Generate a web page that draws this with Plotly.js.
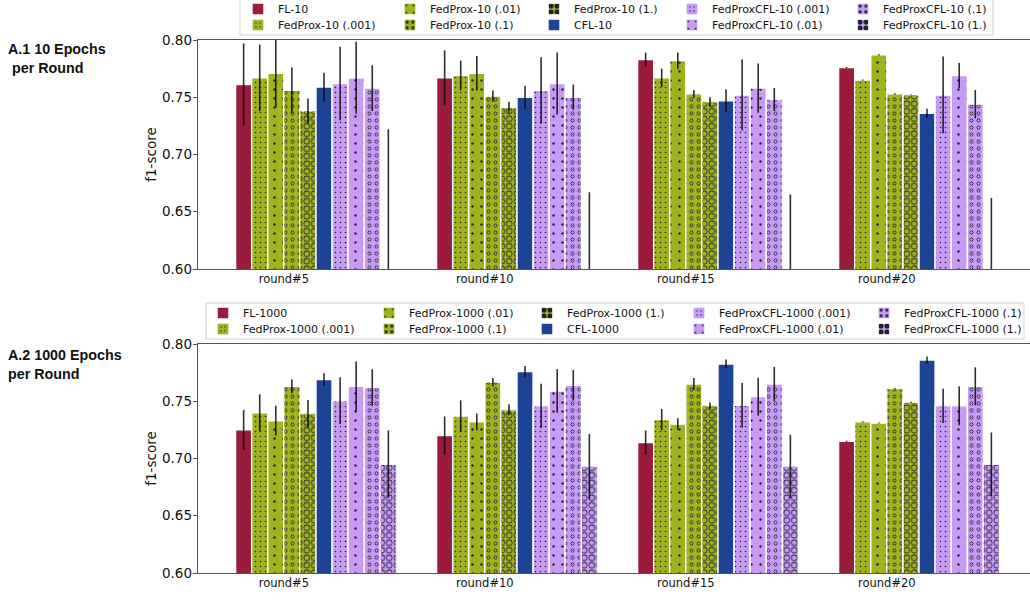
<!DOCTYPE html>
<html>
<head>
<meta charset="utf-8">
<script src="https://cdn.plot.ly/plotly-3.0.1.min.js"></script>
<style>
html,body{margin:0;padding:0;overflow:hidden;background:#fff;}
#chart{width:1045px;height:601px;}
</style>
</head>
<body>
<div id="chart"></div>
<script>
// ---------------- DATA ----------------
const categories = ['round#5', 'round#10', 'round#15', 'round#20'];

// A.1 : 10 epochs per round
const fl10          = [0.761, 0.767, 0.783, 0.776];
const fl10Err       = [0.036, 0.024, 0.006, 0.0005];
const fedprox10_001 = [0.767, 0.769, 0.767, 0.765];
const fedprox10_001Err = [0.029, 0.013, 0.008, 0.0005];
const fedprox10_01  = [0.771, 0.771, 0.782, 0.787];
const fedprox10_01Err  = [0.030, 0.015, 0.007, 0.0005];
const fedprox10_1   = [0.756, 0.751, 0.753, 0.753];
const fedprox10_1Err   = [0.020, 0.005, 0.0034, 0.0005];
const fedprox10_1p  = [0.738, 0.741, 0.746, 0.752];
const fedprox10_1pErr  = [0.011, 0.005, 0.004, 0.0005];
const cfl10         = [0.759, 0.750, 0.747, 0.736];
const cfl10Err      = [0.0125, 0.010, 0.010, 0.004];
const fpcfl10_001   = [0.762, 0.756, 0.752, 0.752];
const fpcfl10_001Err   = [0.032, 0.029, 0.031, 0.0335];
const fpcfl10_01    = [0.767, 0.762, 0.758, 0.769];
const fpcfl10_01Err    = [0.0315, 0.027, 0.0215, 0.011];
const fpcfl10_1     = [0.758, 0.750, 0.748, 0.744];
const fpcfl10_1Err     = [0.020, 0.011, 0.010, 0.0124];
const fpcfl10_1p    = [0.550, 0.520, 0.520, 0.510];
const fpcfl10_1pErr    = [0.172, 0.147, 0.145, 0.152];

// A.2 : 1000 epochs per round
const fl1000          = [0.725, 0.720, 0.714, 0.715];
const fl1000Err       = [0.0175, 0.0167, 0.0105, 0.0005];
const fedprox1000_001 = [0.740, 0.737, 0.734, 0.732];
const fedprox1000_001Err = [0.016, 0.0138, 0.0092, 0.0005];
const fedprox1000_01  = [0.733, 0.732, 0.730, 0.731];
const fedprox1000_01Err  = [0.013, 0.0073, 0.0052, 0.0005];
const fedprox1000_1   = [0.763, 0.7665, 0.765, 0.761];
const fedprox1000_1Err   = [0.006, 0.0037, 0.0052, 0.0005];
const fedprox1000_1p  = [0.739, 0.7425, 0.746, 0.749];
const fedprox1000_1pErr  = [0.012, 0.0048, 0.003, 0.0005];
const cfl1000         = [0.769, 0.776, 0.7825, 0.786];
const cfl1000Err      = [0.0054, 0.0048, 0.004, 0.003];
const fpcfl1000_001   = [0.7505, 0.746, 0.7465, 0.746];
const fpcfl1000_001Err   = [0.0204, 0.0193, 0.0195, 0.015];
const fpcfl1000_01    = [0.763, 0.759, 0.754, 0.746];
const fpcfl1000_01Err    = [0.0218, 0.019, 0.0165, 0.017];
const fpcfl1000_1     = [0.762, 0.764, 0.765, 0.763];
const fpcfl1000_1Err     = [0.016, 0.0134, 0.015, 0.0166];
const fpcfl1000_1p    = [0.695, 0.693, 0.693, 0.695];
const fpcfl1000_1pErr    = [0.0295, 0.0285, 0.0277, 0.0277];

const names10 = ['FL-10', 'FedProx-10 (.001)', 'FedProx-10 (.01)', 'FedProx-10 (.1)', 'FedProx-10 (1.)',
  'CFL-10', 'FedProxCFL-10 (.001)', 'FedProxCFL-10 (.01)', 'FedProxCFL-10 (.1)', 'FedProxCFL-10 (1.)'];
const names1000 = ['FL-1000', 'FedProx-1000 (.001)', 'FedProx-1000 (.01)', 'FedProx-1000 (.1)', 'FedProx-1000 (1.)',
  'CFL-1000', 'FedProxCFL-1000 (.001)', 'FedProxCFL-1000 (.01)', 'FedProxCFL-1000 (.1)', 'FedProxCFL-1000 (1.)'];

const values10 = [fl10, fedprox10_001, fedprox10_01, fedprox10_1, fedprox10_1p, cfl10, fpcfl10_001, fpcfl10_01, fpcfl10_1, fpcfl10_1p];
const errors10 = [fl10Err, fedprox10_001Err, fedprox10_01Err, fedprox10_1Err, fedprox10_1pErr, cfl10Err, fpcfl10_001Err, fpcfl10_01Err, fpcfl10_1Err, fpcfl10_1pErr];
const values1000 = [fl1000, fedprox1000_001, fedprox1000_01, fedprox1000_1, fedprox1000_1p, cfl1000, fpcfl1000_001, fpcfl1000_01, fpcfl1000_1, fpcfl1000_1p];
const errors1000 = [fl1000Err, fedprox1000_001Err, fedprox1000_01Err, fedprox1000_1Err, fedprox1000_1pErr, cfl1000Err, fpcfl1000_001Err, fpcfl1000_01Err, fpcfl1000_1Err, fpcfl1000_1pErr];

// ---------------- STYLE ----------------
const colorKeys = ['fl', 'fedprox', 'fedprox', 'fedprox', 'fedprox', 'cfl', 'pcfl', 'pcfl', 'pcfl', 'pcfl'];
const hatchKeys = ['none', '...', '.', 'o', 'O', 'none', '...', '.', 'o', 'O'];
const COLORS = {fl: '#9a1b3c', fedprox: '#a1b21f', cfl: '#1d4394', pcfl: '#c69af6'};
const INK = '#22222e';
const HATCH = {
  '...': {size: 5, outer: 0.8},
  '.':   {size: 9, outer: 1.2},
  'o':   {size: 7, outer: 1.9, inner: 1.2},
  'O':   {size: 7.5, outer: 3.2, inner: 2.45}
};
function solidity(r, s) { return Math.PI * r * r / (s * s); }

const W = 1045, H = 601;
const PL = 198, PW = 839, PT = 40, PB = 573; // plot area in px
const PH = PB - PT;
const px2x = p => (p - PL) / PW;
const px2y = p => (PB - p) / PH;

const catIdx = categories.map((c, i) => i);
const nBars = 10, barW = 0.08;

const traces = [];
const legendLayouts = {};

function buildGroup(names, values, errors, xa, ya, legendBase, textXs, rowYs) {
  names.forEach((name, i) => {
    const col = COLORS[colorKeys[i]];
    const h = HATCH[hatchKeys[i]];
    const ring = h && h.inner;
    const lid = legendBase + i === 1 ? 'legend' : 'legend' + (legendBase + i);
    const err = {type: 'data', array: errors[i], visible: true, color: 'rgba(10,10,10,0.85)', thickness: 1.6, width: 0};
    const marker = {color: col, line: {color: '#ffffff', width: 1.4}};
    if (h) {
      marker.pattern = {shape: '.', fillmode: 'overlay', bgcolor: col, fgcolor: INK, fgopacity: 1,
        size: h.size, solidity: solidity(h.outer, h.size)};
    }
    traces.push({
      type: 'bar', name: name, x: catIdx, y: values[i], xaxis: xa, yaxis: ya,
      offset: -nBars * barW / 2 + i * barW, width: barW, marker: marker,
      error_y: ring ? {visible: false} : err, legend: lid, hoverinfo: 'skip'
    });
    if (ring) {
      traces.push({
        type: 'bar', name: name + ' ring', x: catIdx, y: values[i], xaxis: xa, yaxis: ya,
        offset: -nBars * barW / 2 + i * barW, width: barW, showlegend: false, hoverinfo: 'skip',
        marker: {color: 'rgba(0,0,0,0)', line: {width: 0},
          pattern: {shape: '.', fillmode: 'overlay', bgcolor: 'rgba(0,0,0,0)', fgcolor: col, fgopacity: 1,
            size: h.size, solidity: solidity(h.inner, h.size)}},
        error_y: err, legend: lid
      });
    }
    const c = Math.floor(i / 2), r = i % 2;
    legendLayouts[lid] = {
      x: px2x(textXs[c] - 40), xanchor: 'left', y: px2y(rowYs[r]), yanchor: 'middle',
      bgcolor: 'rgba(0,0,0,0)', borderwidth: 0, orientation: 'v',
      font: {family: 'DejaVu Sans', size: 11, color: '#111'}, itemclick: false, itemdoubleclick: false
    };
  });
}

buildGroup(names10, values10, errors10, 'x', 'y', 1, [278, 430, 574, 712, 883], [9, 25]);
buildGroup(names1000, values1000, errors1000, 'x2', 'y2', 11, [243, 409, 567, 719, 904], [313, 329]);

const xBase = {
  range: [-0.587, 3.587], tickvals: catIdx.map(i => i - 2 * barW), ticktext: categories,
  showline: true, mirror: true, linecolor: '#555', linewidth: 1.3, ticks: '', showgrid: false, zeroline: false,
  tickfont: {family: 'DejaVu Sans', size: 11.5, color: '#111'}, ticklabelstandoff: -1, fixedrange: true
};
const yBase = {
  range: [0.6, 0.8], tick0: 0.6, dtick: 0.05, tickformat: '.2f',
  showline: true, mirror: true, linecolor: '#555', linewidth: 1.3, ticks: 'outside', ticklen: 4, tickwidth: 1, tickcolor: '#555',
  showgrid: false, zeroline: false, tickfont: {family: 'DejaVu Sans', size: 13.5, color: '#111'}, ticklabelstandoff: -2,
  title: {text: 'f1-score', font: {family: 'DejaVu Sans', size: 13.5, color: '#111'}, standoff: 2}, fixedrange: true
};

const layout = Object.assign({
  width: W, height: H,
  margin: {l: PL, r: W - PL - PW, t: PT, b: H - PB, autoexpand: false},
  paper_bgcolor: '#fff', plot_bgcolor: '#fff',
  barmode: 'overlay', showlegend: true, hovermode: false,
  font: {family: 'DejaVu Sans', size: 11, color: '#222'},
  xaxis: Object.assign({}, xBase, {anchor: 'y'}),
  yaxis: Object.assign({}, yBase, {anchor: 'x', domain: [px2y(269), 1]}),
  xaxis2: Object.assign({}, xBase, {anchor: 'y2'}),
  yaxis2: Object.assign({}, yBase, {anchor: 'x2', domain: [0, px2y(344)]}),
  shapes: [
    {type: 'rect', xref: 'paper', yref: 'paper', x0: px2x(240), x1: px2x(993), y0: px2y(35), y1: px2y(-2),
     line: {color: '#d0d0d0', width: 1}, fillcolor: 'rgba(255,255,255,0)'},
    {type: 'rect', xref: 'paper', yref: 'paper', x0: px2x(206), x1: px2x(1024), y0: px2y(339), y1: px2y(303),
     line: {color: '#d0d0d0', width: 1}, fillcolor: 'rgba(255,255,255,0)'}
  ],
  annotations: [
    {xref: 'paper', yref: 'paper', x: px2x(6), y: px2y(58.5), xanchor: 'left', yanchor: 'middle', align: 'left',
     showarrow: false, text: '<b>A.1 10 Epochs<br> per Round</b>',
     font: {family: 'Liberation Sans, Arial, sans-serif', size: 14.3, color: '#111'}},
    {xref: 'paper', yref: 'paper', x: px2x(6), y: px2y(364.5), xanchor: 'left', yanchor: 'middle', align: 'left',
     showarrow: false, text: '<b>A.2 1000 Epochs<br>per Round</b>',
     font: {family: 'Liberation Sans, Arial, sans-serif', size: 14.3, color: '#111'}}
  ]
}, legendLayouts);

Plotly.newPlot('chart', traces, layout, {displayModeBar: false, staticPlot: true});
</script>
</body>
</html>
